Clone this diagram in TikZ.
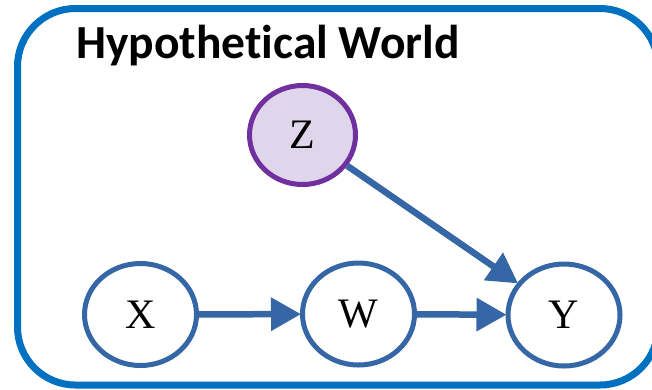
\documentclass[tikz,border=0pt]{standalone}
\usepackage{fontspec}
\setmainfont{Liberation Serif}
\newfontfamily\titlefont[Ligatures=NoCommon]{Carlito}
\usetikzlibrary{shapes.geometric,arrows.meta}
\definecolor{frameblue}{RGB}{0,112,192}
\definecolor{edgeblue}{RGB}{53,102,166}
\definecolor{zpurple}{RGB}{112,48,160}
\definecolor{zfill}{RGB}{224,214,236}
\tikzset{
  var/.style={ellipse, draw=edgeblue, line width=5pt, fill=white,
    minimum width=112pt, minimum height=102pt, inner sep=0pt,
    font=\fontsize{42}{42}\selectfont},
  latent/.style={var, draw=zpurple, fill=zfill,
    minimum width=106pt, minimum height=99pt},
  link/.style={draw=edgeblue, line width=6.5pt,
    -{Triangle[length=30pt,width=32pt]}, shorten >=-1pt},
}
\begin{document}
\begin{tikzpicture}[x=1pt,y=-1pt]
  \useasboundingbox (0,0) rectangle (652,389);
  % outer frame, running off the right edge
  \draw[frameblue, line width=7pt, rounded corners=58pt]
    (17.5,8.5) rectangle (658,385);
  \node[anchor=base west, inner sep=0pt,
        font=\titlefont\bfseries\fontsize{47.5}{47.5}\selectfont]
    (title) at (76,58) {Hypothetical World};
  % variables
  \node[latent] (Z) at (302.5,135) {Z};
  \node[var] (X) at (140.5,314.5) {X};
  \node[var] (W) at (358.5,314) {W};
  \node[var] (Y) at (564,315) {Y};
  % causal links
  \draw[link] (X) -- (W);
  \draw[link] (W) -- (Y);
  \draw[link] (Z) -- (Y);
\end{tikzpicture}
\end{document}
